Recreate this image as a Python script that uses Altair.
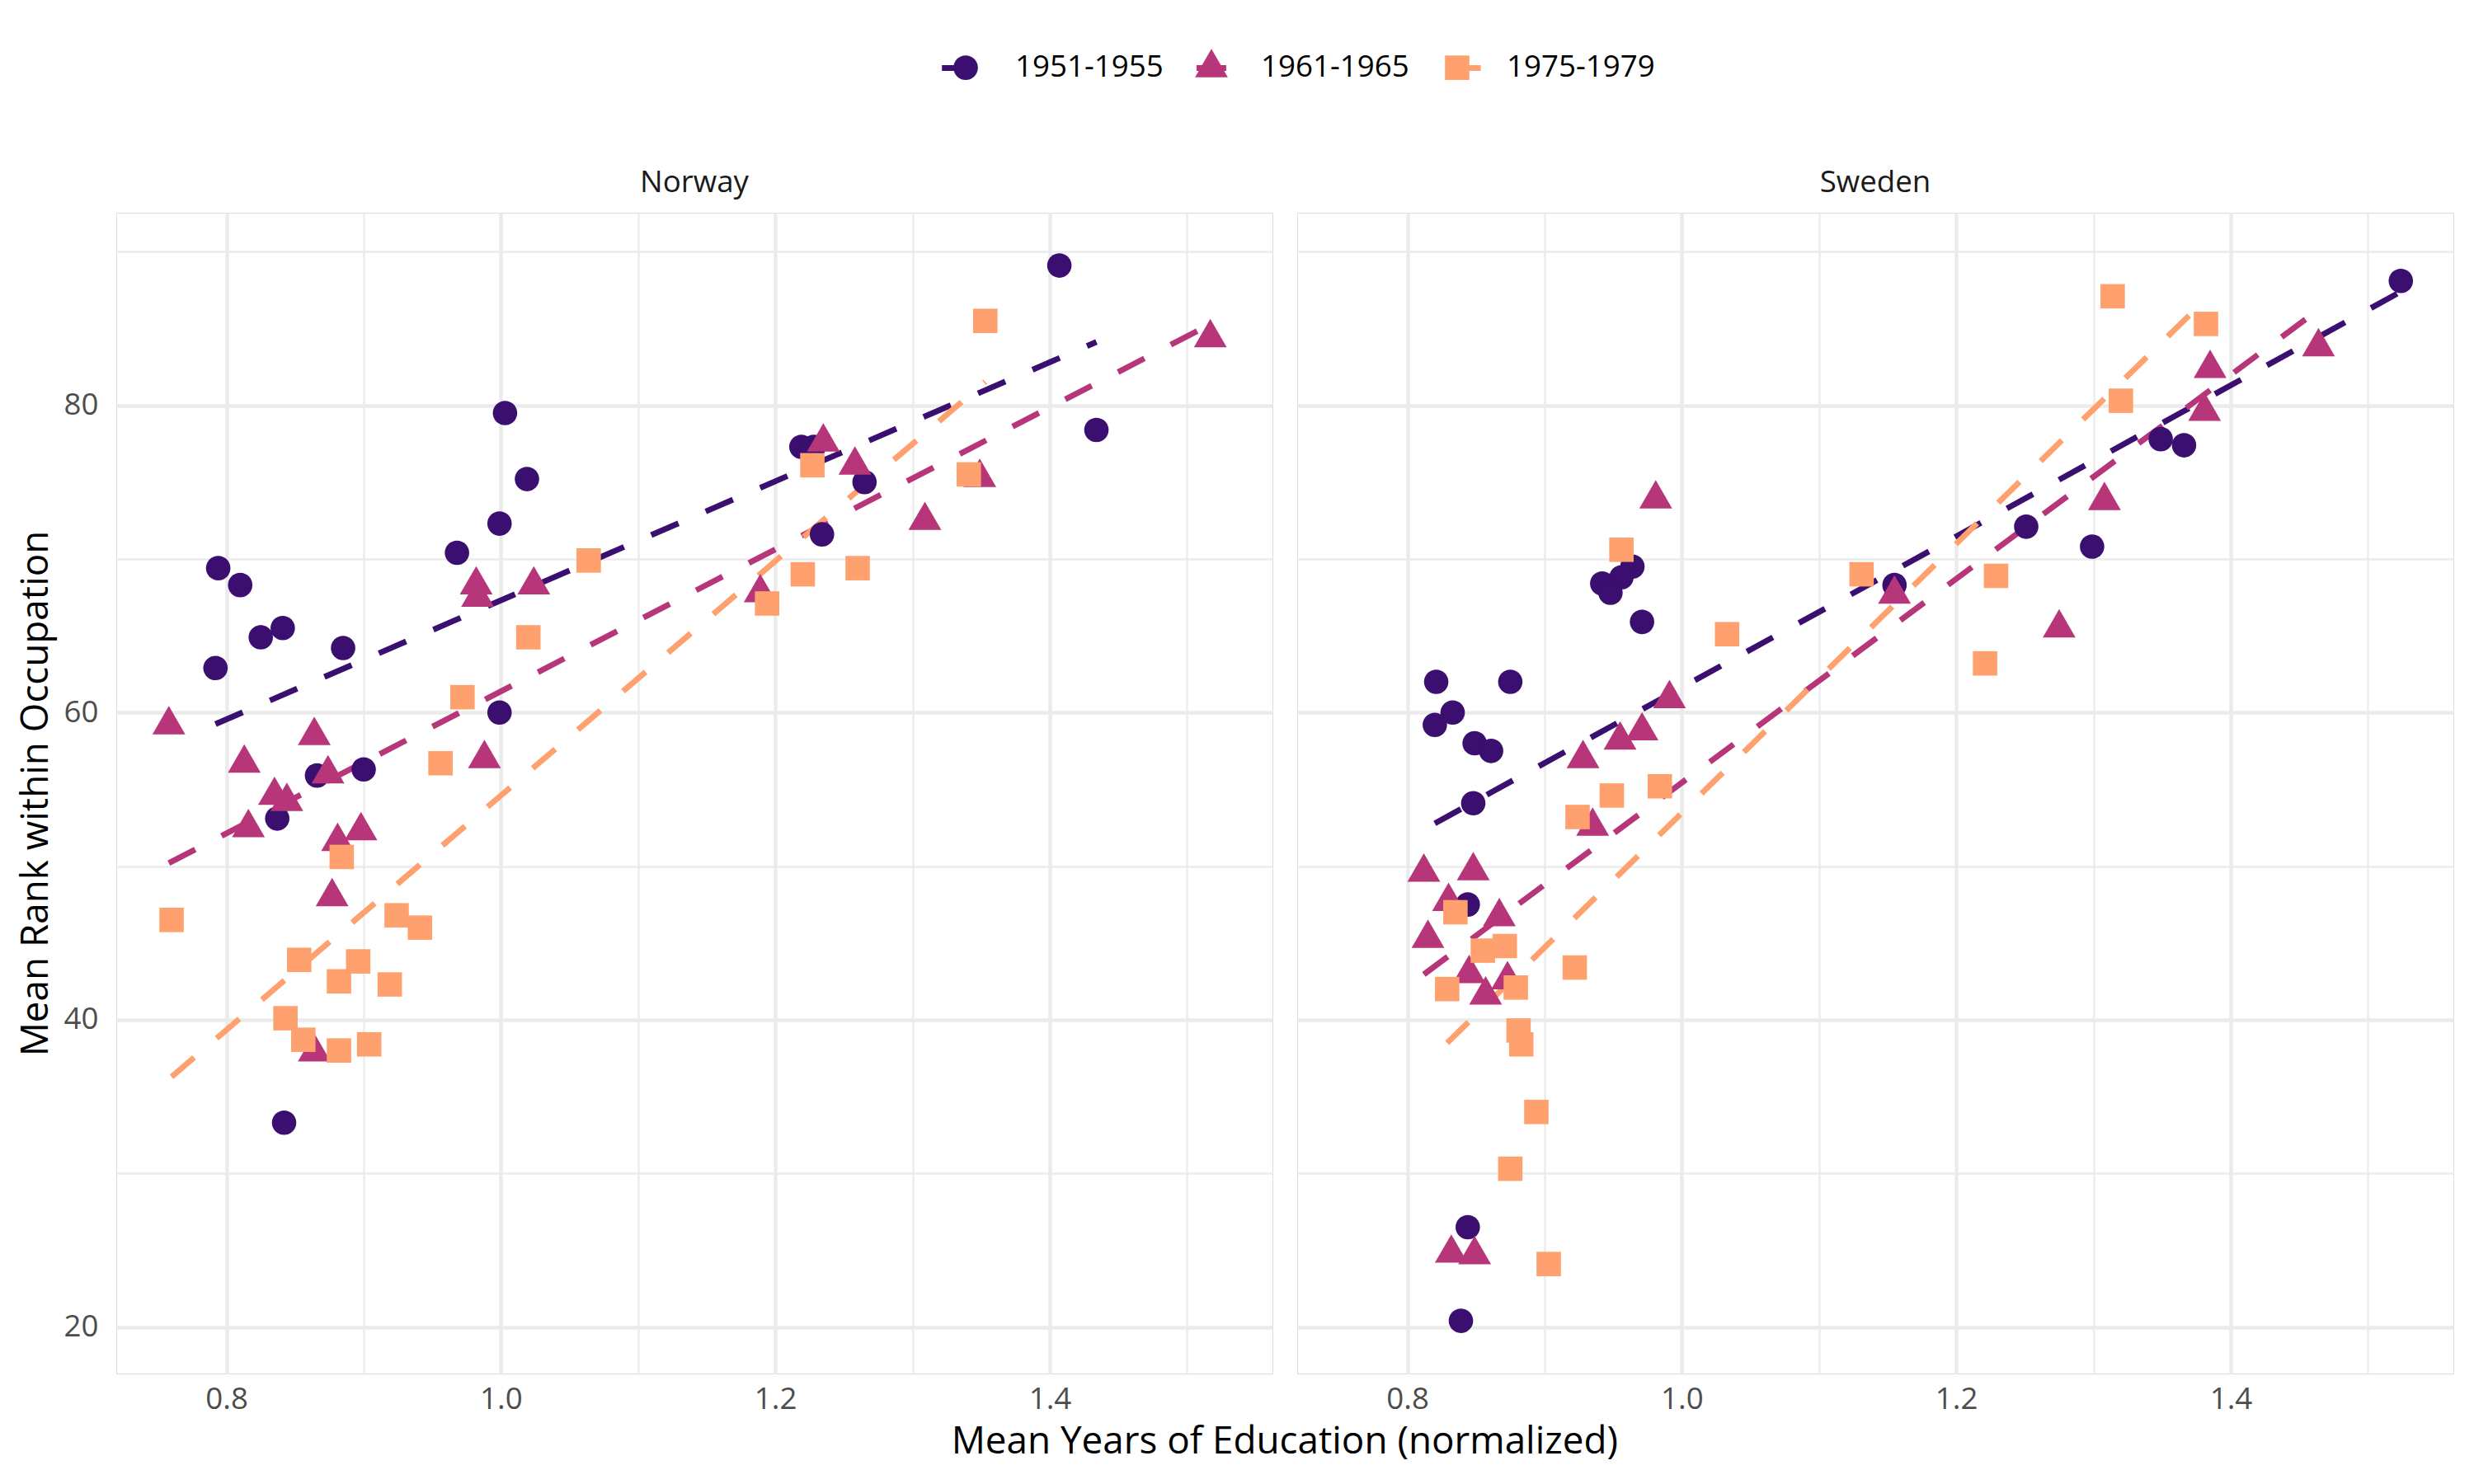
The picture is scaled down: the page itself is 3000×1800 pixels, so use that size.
import altair as alt
import pandas as pd

cohorts = ["1951-1955", "1961-1965", "1975-1979"]
countries = ["Norway", "Sweden"]
colors = ["#3B0F70", "#B63679", "#FEA16E"]

# Norway
nor_51_x = [0.794, 0.810, 0.825, 0.841, 0.885, 0.792, 0.837, 0.866, 0.900, 0.842, 0.968,
            1.003, 1.019, 0.999, 0.999, 1.219, 1.228, 1.234, 1.265, 1.407, 1.434]
nor_51_y = [69.4, 68.3, 64.9, 65.5, 64.2, 62.9, 53.1, 55.9, 56.3, 33.3, 70.4,
            79.5, 75.2, 72.3, 60.0, 77.3, 77.3, 71.6, 75.0, 89.1, 78.4]
nor_61_x = [0.758, 0.982, 0.983, 1.024, 0.864, 0.813, 0.874, 0.988, 0.835, 0.844, 0.816,
            0.881, 0.898, 0.877, 0.864, 1.235, 1.258, 1.349, 1.309, 1.189, 1.517]
nor_61_y = [59.2, 68.3, 67.5, 68.3, 58.5, 56.7, 56.0, 57.0, 54.6, 54.2, 52.5,
            51.6, 52.3, 48.0, 37.9, 77.6, 76.1, 75.3, 72.5, 67.8, 84.4]
nor_75_x = [1.064, 1.020, 0.972, 0.956, 0.884, 0.760, 0.924, 0.941, 0.853, 0.896, 0.882,
            0.919, 0.843, 0.856, 0.882, 0.904, 1.353, 1.227, 1.341, 1.194, 1.220, 1.260]
nor_75_y = [69.9, 64.9, 61.0, 56.7, 50.6, 46.5, 46.8, 46.0, 43.9, 43.8, 42.5,
            42.3, 40.1, 38.7, 38.0, 38.4, 85.5, 76.1, 75.5, 67.1, 69.0, 69.4]

# Sweden
swe_51_x = [0.821, 0.875, 0.833, 0.820, 0.849, 0.861, 0.848, 0.844, 0.844, 0.839, 0.964,
            0.956, 0.942, 0.948, 0.971, 1.155, 1.251, 1.299, 1.349, 1.366, 1.524]
swe_51_y = [62.0, 62.0, 60.0, 59.2, 58.0, 57.5, 54.1, 47.5, 26.5, 20.4, 69.5,
            68.8, 68.4, 67.8, 65.9, 68.3, 72.1, 70.8, 77.8, 77.4, 88.1]
swe_61_x = [0.981, 0.991, 0.955, 0.971, 0.928, 0.935, 0.812, 0.848, 0.830, 0.867, 0.815,
            0.845, 0.857, 0.873, 0.832, 0.849, 1.155, 1.275, 1.308, 1.381, 1.385, 1.464]
swe_61_y = [73.9, 60.9, 58.2, 58.8, 57.0, 52.6, 49.6, 49.7, 47.7, 46.7, 45.3,
            43.0, 41.6, 42.6, 24.8, 24.7, 67.7, 65.5, 73.8, 79.6, 82.4, 83.8]
swe_75_x = [0.956, 1.033, 0.924, 0.949, 0.984, 0.835, 0.855, 0.871, 0.829, 0.879, 0.922,
            0.881, 0.883, 0.894, 0.875, 0.903, 1.131, 1.229, 1.221, 1.314, 1.320, 1.382]
swe_75_y = [70.6, 65.1, 53.2, 54.6, 55.2, 47.0, 44.5, 44.8, 42.0, 42.1, 43.4,
            39.3, 38.4, 34.0, 30.3, 24.1, 69.0, 68.9, 63.2, 87.1, 80.3, 85.3]

series = [
    ("Norway", cohorts[0], nor_51_x, nor_51_y),
    ("Norway", cohorts[1], nor_61_x, nor_61_y),
    ("Norway", cohorts[2], nor_75_x, nor_75_y),
    ("Sweden", cohorts[0], swe_51_x, swe_51_y),
    ("Sweden", cohorts[1], swe_61_x, swe_61_y),
    ("Sweden", cohorts[2], swe_75_x, swe_75_y),
]
rows = []
for country, cohort, xs, ys in series:
    for xv, yv in zip(xs, ys):
        rows.append({"country": country, "cohort": cohort, "edu": xv, "rank": yv})
df = pd.DataFrame(rows)

FONT = "Open Sans"
SYM = 1584  # one symbol size; shapes below are scaled inside the unit box
TRI = "M0,-1.155L1,0.577L-1,0.577Z"
SQR = "M-0.744,-0.744H0.744V0.744H-0.744Z"
CIR = "M0.744,0A0.744,0.744,0,1,1,-0.744,0A0.744,0.744,0,1,1,0.744,0Z"
line_keys = ["_" + c for c in cohorts]

x_enc = alt.X(
    "edu:Q",
    scale=alt.Scale(domain=[0.7197, 1.5623], nice=False, zero=False),
    axis=alt.Axis(
        values=[0.8, 0.9, 1.0, 1.1, 1.2, 1.3, 1.4, 1.5],
        labelExpr="round(datum.value*10) % 2 == 0 ? format(datum.value, '.1f') : ''",
        title=None, ticks=False, tickSize=0, domain=False,
        labelFontSize=36.7, labelColor="#4D4D4D", labelFont=FONT, labelPadding=12,
        gridColor="#EBEBEB",
        gridWidth={"condition": {"test": "round(datum.value*10) % 2 == 0", "value": 4.5}, "value": 2.3},
    ),
)
y_enc = alt.Y(
    "rank:Q",
    scale=alt.Scale(domain=[16.97, 92.54], nice=False, zero=False),
    axis=alt.Axis(
        values=[20, 30, 40, 50, 60, 70, 80, 90],
        labelExpr="datum.value % 20 == 0 ? format(datum.value, 'd') : ''",
        title="Mean Rank within Occupation", titleFontSize=45.8, titleFont=FONT,
        titleColor="#000000", titleFontWeight="normal", titlePadding=10,
        ticks=False, tickSize=0, domain=False,
        labelFontSize=36.7, labelColor="#4D4D4D", labelFont=FONT, labelPadding=21,
        gridColor="#EBEBEB",
        gridWidth={"condition": {"test": "datum.value % 20 == 0", "value": 4.5}, "value": 2.3},
    ),
)

LEGX = 1010
LEGY = -196
leg_pts = alt.Legend(
    title=None, orient="none", direction="horizontal",
    legendX=LEGX, legendY=LEGY, labelLimit=0,
    labelFontSize=36.7, labelFont=FONT, labelColor="#000000",
    labelOffset=40, columnPadding=38, symbolStrokeWidth=0, symbolSize=SYM,
)
leg_line = alt.Legend(
    title=None, orient="none", direction="horizontal",
    legendX=LEGX - 12.5, legendY=LEGY - 12.5, labelLimit=0,
    labelExpr="''",
    labelFontSize=36.7, labelFont=FONT, labelColor="#000000",
    labelOffset=15, columnPadding=217.7, symbolType="stroke",
    symbolSize=3318, symbolStrokeWidth=7, symbolDash=[36, 36],
)

points = alt.Chart().mark_point(filled=True, opacity=1, strokeWidth=0, size=SYM).encode(
    x=x_enc,
    y=y_enc,
    color=alt.Color("cohort:N", scale=alt.Scale(domain=cohorts, range=colors), legend=leg_pts),
    shape=alt.Shape("cohort:N", scale=alt.Scale(domain=cohorts, range=[CIR, TRI, SQR]), legend=leg_pts),
)

lines = alt.Chart().transform_regression(
    "edu", "rank", groupby=["country", "cohort"]
).transform_calculate(
    series="'_' + datum.cohort"
).mark_line(strokeDash=[36, 36], strokeWidth=7).encode(
    x="edu:Q",
    y="rank:Q",
    stroke=alt.Stroke("series:N", scale=alt.Scale(domain=line_keys, range=colors), legend=leg_line),
)

chart = alt.layer(lines, points, data=df).properties(
    width=1402, height=1408
).facet(
    column=alt.Column(
        "country:N", sort=countries,
        header=alt.Header(title=None, labelFontSize=36.7, labelFont=FONT,
                          labelColor="#1A1A1A", labelPadding=16),
    ),
    spacing=28,
).properties(
    title=alt.TitleParams(
        "Mean Years of Education (normalized)", orient="bottom", anchor="middle",
        fontSize=45.8, font=FONT, color="#000000", fontWeight="normal", offset=11, dx=60,
    ),
    padding={"left": 12, "top": 41, "right": 0, "bottom": 10},
).configure_view(strokeWidth=0).configure(background="white")

chart.save("out.html", embed_options={"renderer": "svg", "actions": False})
